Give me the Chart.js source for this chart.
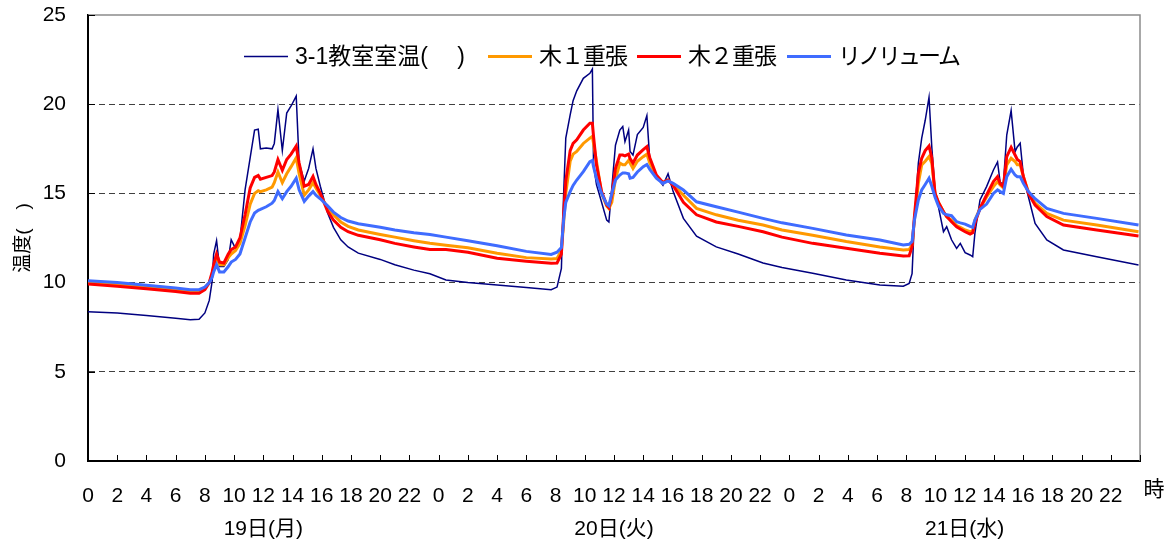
<!DOCTYPE html>
<html>
<head>
<meta charset="utf-8">
<script src="https://cdn.jsdelivr.net/npm/chart.js@4.4.1/dist/chart.umd.min.js"></script>
<style>
  html, body { margin: 0; padding: 0; background: #fff; }
</style>
</head>
<body>
<canvas id="tempChart" width="1174" height="545"></canvas>
<script>
// hours since 0:00 on the 19th (3 days = 72 h)
const hours = [
  0, 2, 4, 6, 7, 7.6, 8, 8.3, 8.5, 8.6, 8.8, 9, 9.3, 9.6, 9.8, 10.1, 10.4, 10.75, 11.1, 11.4, 11.65, 11.8, 12.2, 12.6, 12.75,
  13, 13.3, 13.6, 13.9, 14.25, 14.45, 14.8, 15.1, 15.4, 15.6, 15.9, 16.4, 16.8, 17.3, 17.8, 18.5, 20, 21, 22.3, 23.4,
  24.5, 26, 28, 30, 31.7, 32.1, 32.4, 32.55, 32.7, 33.0, 33.2, 33.45, 33.9, 34.35, 34.52, 34.6, 34.8, 35.15, 35.5, 35.65,
  35.85, 36.1, 36.4, 36.6, 36.75, 37.0, 37.1, 37.3, 37.6, 38.0, 38.25, 38.45, 38.9, 39.35, 39.7, 40.05, 40.75, 41.65, 43, 44.5, 46.2, 47.5,
  49.6, 51.9, 54.2, 55.8, 56.2, 56.4, 56.56, 56.83, 57.06, 57.3, 57.56, 57.75, 57.97, 58.2, 58.55, 58.77, 59.1, 59.45, 59.7, 60.03,
  60.37, 60.55, 60.7, 61.05, 61.5, 61.97, 62.25, 62.43, 62.65, 62.88, 63.18, 63.45, 63.6, 63.8, 64.02, 64.36, 64.82, 65.62, 66.76, 69.04, 71.9
];

const roomTemp = [
  8.37, 8.3, 8.15, 8.0, 7.92, 7.95, 8.3, 9.0, 10.1, 11.6, 12.35, 10.9, 10.9, 11.3, 12.4, 11.9, 12.4, 15.2, 17.0, 18.55, 18.6, 17.5, 17.55, 17.5, 17.8,
  19.7, 17.4, 19.5, 19.9, 20.45, 16.7, 15.7, 16.4, 17.5, 16.4, 15.4, 13.9, 13.1, 12.4, 12.0, 11.65, 11.3, 11.0, 10.7, 10.5,
  10.15, 10.0, 9.87, 9.72, 9.6, 9.75, 10.8, 14.9, 18.1, 19.4, 20.2, 20.75, 21.45, 21.73, 21.97, 16.6, 15.5, 14.5, 13.5, 13.4,
  15.3, 17.7, 18.55, 18.75, 17.9, 18.55, 17.35, 17.15, 18.3, 18.7, 19.36, 16.85, 15.95, 15.45, 16.1, 15.1, 13.6, 12.6, 12.0, 11.6, 11.1, 10.85,
  10.52, 10.15, 9.87, 9.8, 9.95, 10.5, 13.5, 16.7, 18.1, 19.1, 20.39, 17.6, 15.2, 14.26, 12.85, 13.13, 12.4, 11.92, 12.2, 11.68,
  11.55, 11.45, 12.76, 14.63, 15.38, 16.31, 16.76, 15.6, 15.56, 18.27, 19.64, 17.34, 17.6, 17.81, 16.0, 14.81, 13.32, 12.39, 11.83, 11.45, 10.99
];

const wood1 = [
  10.0, 9.9, 9.75, 9.6, 9.5, 9.5, 9.7, 10.0, 10.45, 10.8, 11.45, 11.0, 11.0, 11.4, 11.6, 11.8, 12.2, 13.2, 14.4, 15.0, 15.15, 15.1, 15.2, 15.35, 15.6,
  16.2, 15.6, 16.1, 16.5, 17.0, 16.1, 14.9, 15.2, 15.6, 15.3, 14.9, 14.2, 13.8, 13.4, 13.15, 12.95, 12.7, 12.55, 12.35, 12.2,
  12.1, 11.95, 11.64, 11.4, 11.32, 11.35, 11.8, 13.3, 15.0, 16.8, 17.2, 17.35, 17.8, 18.1, 18.2, 17.8, 16.8, 15.0, 14.3, 14.15,
  14.5, 15.8, 16.7, 16.6, 16.6, 16.85, 16.7, 16.4, 16.8, 17.06, 17.2, 16.7, 15.95, 15.6, 15.75, 15.5, 14.9, 14.16, 13.8, 13.5, 13.23, 12.95,
  12.65, 12.3, 12.0, 11.83, 11.85, 12.1, 13.5, 15.57, 16.6, 16.8, 17.06, 16.7, 15.0, 14.5, 13.97, 13.7, 13.5, 13.2, 13.1, 12.95,
  12.85, 12.9, 13.5, 14.16, 14.8, 15.38, 15.66, 15.47, 15.3, 16.6, 16.97, 16.79, 16.6, 16.6, 15.94, 15.1, 14.45, 13.88, 13.5, 13.23, 12.85
];

const wood2 = [
  9.92, 9.8, 9.65, 9.5, 9.4, 9.4, 9.6, 10.0, 10.6, 11.0, 11.6, 11.15, 11.1, 11.6, 11.85, 12.0, 12.5, 13.8, 15.3, 15.9, 16.0, 15.8, 15.9, 16.0, 16.2,
  16.9, 16.3, 16.9, 17.2, 17.65, 16.7, 15.4, 15.5, 15.95, 15.5, 15.0, 14.0, 13.5, 13.1, 12.85, 12.65, 12.4, 12.2, 12.0, 11.85,
  11.85, 11.7, 11.36, 11.2, 11.08, 11.1, 11.6, 13.8, 15.7, 17.4, 17.8, 18.0, 18.55, 18.93, 18.93, 18.2, 16.6, 15.1, 14.35, 14.2,
  14.9, 16.4, 17.15, 17.15, 17.1, 17.2, 16.95, 16.7, 17.15, 17.45, 17.62, 17.0, 16.03, 15.6, 15.75, 15.45, 14.5, 13.8, 13.4, 13.15, 12.85, 12.55,
  12.2, 11.92, 11.64, 11.49, 11.5, 12.0, 13.7, 16.13, 16.97, 17.4, 17.66, 17.0, 15.0, 14.5, 13.97, 13.7, 13.41, 13.13, 13.0, 12.85,
  12.72, 12.8, 13.32, 14.16, 14.91, 15.66, 15.94, 15.55, 15.38, 17.06, 17.58, 17.15, 16.9, 16.78, 15.94, 15.0, 14.35, 13.7, 13.23, 12.95, 12.61
];

const linoleum = [
  10.1, 10.0, 9.85, 9.7, 9.6, 9.6, 9.75, 10.0, 10.3, 10.6, 11.0, 10.6, 10.6, 10.9, 11.15, 11.3, 11.6, 12.5, 13.4, 13.9, 14.05, 14.1, 14.25, 14.45, 14.6,
  15.1, 14.7, 15.1, 15.4, 15.85, 15.2, 14.55, 14.85, 15.1, 14.9, 14.7, 14.3, 13.95, 13.65, 13.45, 13.3, 13.1, 12.95, 12.8, 12.7,
  12.55, 12.35, 12.07, 11.75, 11.58, 11.7, 11.96, 13.5, 14.5, 15.1, 15.45, 15.75, 16.22, 16.78, 16.85, 16.5, 15.85, 15.0, 14.4, 14.3,
  15.0, 15.75, 16.03, 16.15, 16.15, 16.1, 15.85, 15.9, 16.2, 16.5, 16.62, 16.35, 15.85, 15.56, 15.7, 15.56, 15.19, 14.53, 14.25, 13.95, 13.6, 13.35,
  13.04, 12.67, 12.39, 12.11, 12.15, 12.3, 13.5, 14.63, 15.19, 15.5, 15.85, 15.4, 14.8, 14.3, 13.88, 13.8, 13.75, 13.41, 13.35, 13.28,
  13.15, 13.1, 13.5, 14.1, 14.4, 15.0, 15.2, 15.1, 15.0, 15.94, 16.35, 16.03, 15.94, 15.94, 15.56, 15.1, 14.7, 14.16, 13.88, 13.6, 13.23
];

const seriesNames = ["3-1教室室温(　 )", "木１重張", "木２重張", "リノリューム"];
const dayLabels = ["19日(月)", "20日(火)", "21日(水)"];

const FONT = "'Liberation Sans', 'Noto Sans CJK JP', sans-serif";

const toPoints = (values) => hours.map((h, i) => ({ x: h, y: values[i] }));

// legend sits inside the plot, so draw it ourselves; also inward tick marks and grey frame
const framePlugin = {
  id: "frame",
  beforeDatasetsDraw(chart) {
    const { ctx, chartArea: a, scales } = chart;
    ctx.save();
    ctx.strokeStyle = "#8c8c8c";
    ctx.lineWidth = 1.5;
    ctx.beginPath();
    ctx.moveTo(a.left, a.top);
    ctx.lineTo(a.right, a.top);
    ctx.lineTo(a.right, a.bottom);
    ctx.stroke();

    ctx.strokeStyle = "#000";
    ctx.lineWidth = 1;
    ctx.beginPath();
    scales.x.ticks.forEach((t) => {
      const px = Math.round(scales.x.getPixelForValue(t.value)) + 0.5;
      ctx.moveTo(px, a.bottom);
      ctx.lineTo(px, a.bottom - 6);
    });
    scales.y.ticks.forEach((t) => {
      const py = Math.round(scales.y.getPixelForValue(t.value)) + 0.5;
      ctx.moveTo(a.left, py);
      ctx.lineTo(a.left + 7, py);
    });
    ctx.stroke();
    ctx.restore();
  },
  afterDraw(chart) {
    const { ctx } = chart;
    const itemX = [244, 488, 637, 787];
    const squeeze = ["0px", "-1px", "-1px", "-3px"];
    const y = 56.5;
    ctx.save();
    ctx.font = "23px " + FONT;
    ctx.textBaseline = "middle";
    ctx.textAlign = "left";
    chart.data.datasets.forEach((ds, i) => {
      ctx.strokeStyle = ds.borderColor;
      ctx.lineWidth = ds.borderWidth;
      ctx.beginPath();
      ctx.moveTo(itemX[i], y);
      ctx.lineTo(itemX[i] + 44, y);
      ctx.stroke();
      ctx.fillStyle = "#000";
      ctx.letterSpacing = squeeze[i];
      ctx.fillText(ds.label, itemX[i] + 51, y + 1);
    });
    ctx.letterSpacing = "0px";
    ctx.font = "21px " + FONT;
    ctx.textAlign = "center";
    ctx.fillText("時", 1154, 490);
    ctx.restore();
  },
};

new Chart(document.getElementById("tempChart"), {
  type: "line",
  data: {
    datasets: [
      { label: seriesNames[0], data: toPoints(roomTemp), borderColor: "#000080", borderWidth: 1.5, order: 3 },
      { label: seriesNames[1], data: toPoints(wood1), borderColor: "#ff9900", borderWidth: 3, order: 2 },
      { label: seriesNames[2], data: toPoints(wood2), borderColor: "#ff0000", borderWidth: 3, order: 1 },
      { label: seriesNames[3], data: toPoints(linoleum), borderColor: "#3f6cff", borderWidth: 3, order: 0 },
    ],
  },
  options: {
    responsive: false,
    animation: false,
    layout: { padding: { top: 15, right: 34, left: 0, bottom: 0 } },
    elements: { point: { radius: 0 }, line: { tension: 0, fill: false } },
    plugins: { legend: { display: false }, tooltip: { enabled: false } },
    scales: {
      x: {
        type: "linear",
        min: 0,
        max: 72,
        afterFit: (s) => {
          s.height = 84;
          s.paddingLeft = 0;
          s.paddingRight = 0;
        },
        grid: { display: false, drawTicks: false },
        border: { color: "#000", width: 2 },
        ticks: {
          stepSize: 2,
          autoSkip: false,
          maxRotation: 0,
          minRotation: 0,
          padding: 19,
          color: "#000",
          font: { family: FONT, size: 21, lineHeight: 1.57 },
          callback: (v) => {
            if (v >= 72) return "";
            const h = v % 24;
            if (h === 12) return [String(h), dayLabels[Math.floor(v / 24)]];
            return String(h);
          },
        },
      },
      y: {
        min: 0,
        max: 25,
        afterFit: (s) => {
          s.width = 88;
          s.paddingTop = 0;
          s.paddingBottom = 0;
        },
        grid: {
          color: (c) => (c.tick && (c.tick.value === 0 || c.tick.value === 25) ? "rgba(0,0,0,0)" : "#404040"),
          lineWidth: 1,
          drawTicks: false,
        },
        border: { color: "#000", width: 2, dash: [6, 4] },
        ticks: { stepSize: 5, padding: 22, color: "#000", font: { family: FONT, size: 21 } },
        title: {
          display: true,
          text: "温度(　)",
          color: "#000",
          font: { family: FONT, size: 19 },
          padding: { top: 12, bottom: 0 },
        },
      },
    },
  },
  plugins: [framePlugin],
});
</script>
</body>
</html>
